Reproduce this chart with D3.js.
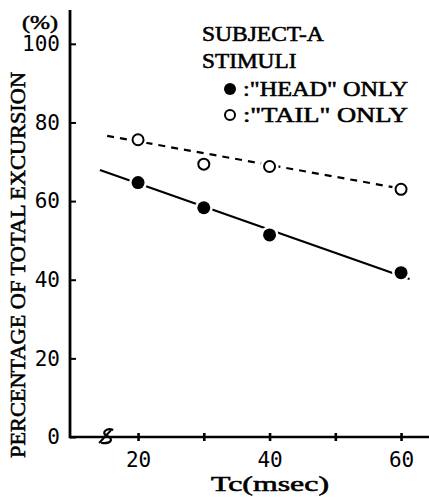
<!DOCTYPE html>
<html>
<head>
<meta charset="utf-8">
<script src="https://cdn.jsdelivr.net/npm/d3@7"></script>
<style>
  body { margin: 0; background: #fff; }
  svg { display: block; }
  .mono { font-family: "Liberation Serif", serif; fill: #000; stroke: #000; stroke-width: 0.55px; }
  .tick text { font-family: "DejaVu Sans Mono", monospace; font-size: 21px; fill: #000; }
</style>
</head>
<body>
<script>
(function(){

	//measured points, Tc in msec, percentage of total excursion
	var tcValues = [20, 30, 40, 60];
	var headOnly = [64.7, 58.3, 51.4, 41.8];
	var tailOnly = [75.6, 69.4, 68.8, 63.0];

	//fitted lines, drawn between these end points
	var headFit = [[14.2, 67.9], [61.3, 40.2]];
	var tailFit = [[15.3, 76.6], [61.6, 62.7]];

	//axis ticks
	var xTicks = [20, 30, 40, 50, 60];
	var xLabels = [20, 40, 60];
	var yTicks = [0, 20, 40, 60, 80, 100];

	var legendLines = ["SUBJECT-A", "STIMULI"];
	var legendItems = [':"HEAD" ONLY', ':"TAIL" ONLY'];

	var width = 429,
		height = 498;

	var svg = d3.select("body")
		.append("svg")
		.attr("width", width)
		.attr("height", height);

	//x axis starts at the y axis and runs to the right edge
	var x = d3.scaleLinear()
		.domain([9.65, 64.25])
		.range([70, 429]);

	var y = d3.scaleLinear()
		.domain([0, 108.6])
		.range([437, 10]);

	//y axis, ticks point inside
	var yAxis = svg.append("g")
		.attr("transform", "translate(" + x.range()[0] + ",0)")
		.call(d3.axisLeft(y)
			.tickValues(yTicks)
			.tickSizeInner(-6)
			.tickSizeOuter(0)
			.tickPadding(10));
	yAxis.select(".domain").remove();
	yAxis.selectAll(".tick line").attr("stroke", "#000").attr("stroke-width", 2);

	//x axis, ticks cross the line
	var xAxis = svg.append("g")
		.attr("transform", "translate(0," + y(0) + ")")
		.call(d3.axisBottom(x)
			.tickValues(xTicks)
			.tickFormat(function(d){ return xLabels.indexOf(d) >= 0 ? d : ""; })
			.tickSizeInner(4)
			.tickSizeOuter(0)
			.tickPadding(11));
	xAxis.select(".domain").remove();
	xAxis.selectAll(".tick line").attr("y1", -4).attr("stroke", "#000").attr("stroke-width", 2.6);

	//axis lines drawn by hand so they stay thick and black
	svg.append("line")
		.attr("x1", x.range()[0]).attr("y1", y(0) + 1.3)
		.attr("x2", x.range()[0]).attr("y2", y.range()[1])
		.attr("stroke", "#000")
		.attr("stroke-width", 2.8);
	svg.append("line")
		.attr("x1", x.range()[0]).attr("y1", y(0))
		.attr("x2", x.range()[1]).attr("y2", y(0))
		.attr("stroke", "#000")
		.attr("stroke-width", 2.6);

	//axis break mark
	var bx = x(15.3), by = y(0);
	svg.append("path")
		.attr("d", "M" + (bx + 6) + "," + (by - 7) +
			" C" + (bx) + "," + (by - 10) + " " + (bx - 7) + "," + (by - 4) + " " + (bx) + "," + (by - 1) +
			" S" + (bx + 4) + "," + (by + 7) + " " + (bx - 6) + "," + (by + 6))
		.attr("fill", "none")
		.attr("stroke", "#000")
		.attr("stroke-width", 2.2);
	svg.append("line")
		.attr("x1", bx - 8).attr("y1", by + 6)
		.attr("x2", bx + 4).attr("y2", by - 7)
		.attr("stroke", "#000")
		.attr("stroke-width", 2);

	//axis titles
	svg.append("text")
		.attr("class", "mono")
		.attr("x", 22).attr("y", 29)
		.attr("textLength", 36)
		.attr("lengthAdjust", "spacingAndGlyphs")
		.style("font-size", "19px")
		.text("(%)");

	svg.append("text")
		.attr("class", "mono")
		.attr("transform", "translate(25,458) rotate(-90)")
		.attr("textLength", 386)
		.attr("lengthAdjust", "spacingAndGlyphs")
		.style("font-size", "20px")
		.text("PERCENTAGE OF TOTAL EXCURSION");

	svg.append("text")
		.attr("class", "mono")
		.attr("x", 211).attr("y", 491)
		.attr("textLength", 118)
		.attr("lengthAdjust", "spacingAndGlyphs")
		.style("font-size", "20px")
		.text("Tc(msec)");

	//fitted lines
	var line = d3.line()
		.x(function(d){ return x(d[0]); })
		.y(function(d){ return y(d[1]); });

	svg.append("path")
		.attr("d", line(headFit))
		.attr("fill", "none")
		.attr("stroke", "#000")
		.attr("stroke-width", 2.2);

	svg.append("path")
		.attr("d", line(tailFit))
		.attr("fill", "none")
		.attr("stroke", "#000")
		.attr("stroke-width", 2.2)
		.attr("stroke-dasharray", "7,6");

	//white halo under each point so the line stops short of it
	function drawPoints(values, filled){
		var pts = values.map(function(v, i){ return [tcValues[i], v]; });
		svg.append("g").selectAll("circle")
			.data(pts)
			.enter()
			.append("circle")
			.attr("cx", function(d){ return x(d[0]); })
			.attr("cy", function(d){ return y(d[1]); })
			.attr("r", 9)
			.attr("fill", "#fff");
		svg.append("g").selectAll("circle")
			.data(pts)
			.enter()
			.append("circle")
			.attr("cx", function(d){ return x(d[0]); })
			.attr("cy", function(d){ return y(d[1]); })
			.attr("r", filled ? 6.5 : 5.5)
			.attr("fill", filled ? "#000" : "#fff")
			.attr("stroke", "#000")
			.attr("stroke-width", filled ? 0 : 2);
	}
	drawPoints(headOnly, true);
	drawPoints(tailOnly, false);

	//legend
	var legend = svg.append("g").attr("class", "mono").style("font-size", "20px");
	legend.selectAll("text.head")
		.data(legendLines)
		.enter()
		.append("text")
		.attr("class", "head")
		.attr("x", 202)
		.attr("y", function(d, i){ return 41 + i * 27; })
		.attr("textLength", function(d){ return d.length * 13.7 - 1.5; })
		.attr("lengthAdjust", "spacingAndGlyphs")
		.text(function(d){ return d; });

	legend.selectAll("text.item")
		.data(legendItems)
		.enter()
		.append("text")
		.attr("class", "item")
		.attr("x", 243)
		.attr("y", function(d, i){ return 96 + i * 26; })
		.attr("textLength", 165)
		.attr("lengthAdjust", "spacingAndGlyphs")
		.text(function(d){ return d; });

	legend.selectAll("circle")
		.data(legendItems)
		.enter()
		.append("circle")
		.attr("cx", 230)
		.attr("cy", function(d, i){ return 89 + i * 26; })
		.attr("r", function(d, i){ return i == 0 ? 6 : 5; })
		.attr("fill", function(d, i){ return i == 0 ? "#000" : "#fff"; })
		.attr("stroke", "#000")
		.attr("stroke-width", function(d, i){ return i == 0 ? 0 : 2; });

})();
</script>
</body>
</html>
